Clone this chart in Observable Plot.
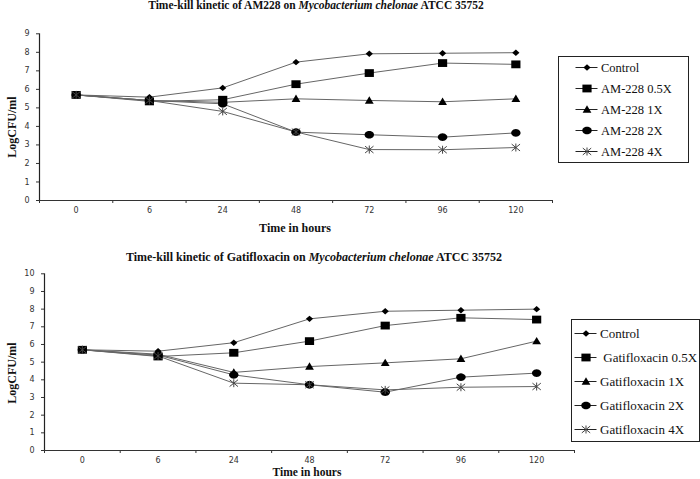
<!DOCTYPE html>
<html><head><meta charset="utf-8">
<script src="https://cdn.jsdelivr.net/npm/d3@7"></script>
<script src="https://cdn.jsdelivr.net/npm/@observablehq/plot@0.6"></script>
<style>
body{margin:0;background:#fff;}
#fig{position:relative;width:700px;height:479px;overflow:hidden;font-family:"Liberation Serif",serif;}
.t{position:absolute;white-space:nowrap;font-weight:bold;color:#111;transform:translateX(-50%);line-height:1;}
.yl{position:absolute;white-space:nowrap;font-weight:bold;color:#111;font-size:12px;transform:translate(-50%,-50%) rotate(-90deg);line-height:1;}
.leg{position:absolute;border:1.5px solid #222;box-sizing:border-box;background:#fff;}
.leg svg{display:block;}
</style></head>
<body><div id="fig"></div>
<script>
const hours = ["0","6","24","48","72","96","120"];

const seriesA = ["Control","AM-228 0.5X","AM-228 1X","AM-228 2X","AM-228 4X"];
const controlA = [5.7,5.58,6.08,7.47,7.92,7.95,7.98];
const halfXA   = [5.7,5.35,5.44,6.28,6.88,7.42,7.35];
const oneXA    = [5.7,5.4,5.3,5.49,5.4,5.33,5.49];
const twoXA    = [5.7,5.4,5.22,3.69,3.55,3.42,3.65];
const fourXA   = [5.7,5.4,4.81,3.7,2.75,2.74,2.86];

const seriesB = ["Control"," Gatifloxacin 0.5X","Gatifloxacin 1X","Gatifloxacin 2X","Gatifloxacin 4X"];
const controlB = [5.7,5.62,6.1,7.45,7.88,7.94,8.0];
const halfXB   = [5.7,5.32,5.53,6.19,7.07,7.51,7.41];
const oneXB    = [5.7,5.45,4.42,4.75,4.96,5.19,6.19];
const twoXB    = [5.7,5.4,4.28,3.72,3.3,4.15,4.38];
const fourXB   = [5.7,5.35,3.81,3.72,3.43,3.58,3.62];

const yTicksA = d3.range(0,10);
const yTicksB = d3.range(0,11);

// Excel-like marker shapes (slightly wider than tall, as in the reference)
function poly(pts){ return {draw(ctx){ ctx.moveTo(pts[0][0],pts[0][1]); for(const p of pts.slice(1)) ctx.lineTo(p[0],p[1]); ctx.closePath(); }}; }
const diamondM = poly([[0,-3.2],[3.6,0],[0,3.2],[-3.6,0]]);
const squareM = poly([[-4.6,-3.9],[4.6,-3.9],[4.6,3.9],[-4.6,3.9]]);
const triangleM = poly([[0,-4.2],[4.4,3.2],[-4.4,3.2]]);
const circleM = poly(d3.range(24).map(i=>[4.7*Math.cos(i/24*2*Math.PI), 3.8*Math.sin(i/24*2*Math.PI)]));
const starM = {draw(ctx){ ctx.moveTo(-4.2,-3.4); ctx.lineTo(4.2,3.4); ctx.moveTo(-4.2,3.4); ctx.lineTo(4.2,-3.4); ctx.moveTo(0,-4); ctx.lineTo(0,4); }};
const symbols = [diamondM, squareM, triangleM, circleM, starM];

function rows(series, values){
  return series.flatMap((s,k)=>values[k].map((v,i)=>({series:s, k, hour:i, value:v})));
}

function panel({series, values, yMax, yTicks, width, height, ml, mr, mt, mb}){
  const data = rows(series, values);
  const idx = d3.range(hours.length);
  const bounds = d3.range(hours.length+1).map(i=>i-0.5);
  return Plot.plot({
    width, height, marginLeft:ml, marginRight:mr, marginTop:mt, marginBottom:mb,
    x:{domain:[-0.5, hours.length-0.5], axis:null},
    y:{domain:[0,yMax], axis:null},
    symbol:{domain:series, range:symbols},
    style:{background:"transparent", overflow:"visible", color:"#333"},
    marks:[
      Plot.axisY({ticks:yTicks, tickSize:3, tickPadding:7, fontSize:8, fontFamily:"DejaVu Sans", label:null}),
      Plot.axisX({ticks:bounds, tickSize:3, tickFormat:()=>"", label:null}),
      Plot.axisX({ticks:idx, tickSize:0, tickPadding:7, tickFormat:i=>hours[i], fontSize:8, fontFamily:"DejaVu Sans", label:null}),
      Plot.ruleY([0], {stroke:"#333", strokeWidth:1}),
      Plot.ruleX([-0.5], {stroke:"#222", strokeWidth:1.2}),
      Plot.line(data, {x:"hour", y:"value", z:"series", stroke:"#666", strokeWidth:1}),
      Plot.dot(data, {x:"hour", y:"value", symbol:"series", r:4, fill:"black", stroke:d=>d.k===4?"#444":"none", strokeWidth:1})
    ]
  });
}

function legend({series, width, height, ml, mr, mt, mb, fontSize}){
  return Plot.plot({
    width, height, marginLeft:ml, marginRight:mr, marginTop:mt, marginBottom:mb,
    x:{domain:[0,2], axis:null},
    y:{type:"point", domain:series, padding:0, axis:null},
    symbol:{domain:series, range:symbols},
    style:{background:"transparent", overflow:"visible"},
    marks:[
      Plot.ruleY(series, {y:d=>d, x1:0, x2:2, stroke:"#222", strokeWidth:1}),
      Plot.dot(series, {x:1, y:d=>d, symbol:d=>d, r:4, fill:"black", stroke:(d,i)=>i===4?"#444":"none", strokeWidth:1}),
      Plot.text(series, {x:2, y:d=>d, text:d=>d, textAnchor:"start", dx:3, fontSize, fontFamily:"Liberation Serif", fill:"#111"})
    ]
  });
}

const fig = document.getElementById("fig");
function place(el, left, top){ el.style.position="absolute"; el.style.left=left+"px"; el.style.top=top+"px"; fig.appendChild(el); return el; }
function html(cls, h, left, top, size){ const d=document.createElement("div"); d.className=cls; d.innerHTML=h; if(size) d.style.fontSize=size+"px"; return place(d,left,top); }

// Top panel
place(panel({series:seriesA, values:[controlA,halfXA,oneXA,twoXA,fourXA], yMax:9, yTicks:yTicksA,
  width:700, height:240, ml:39, mr:148, mt:33.3, mb:40}), 0, 0);
html("t", "Time-kill kinetic of AM228 on <i>Mycobacterium chelonae</i> ATCC 35752", 316, 0, 11.5);
html("t", "Time in hours", 295, 222, 12);
html("yl", "LogCFU/ml", 12, 127);
const legA = html("leg", "", 558, 56); legA.style.width="131px"; legA.style.height="107px";
legA.appendChild(legend({series:seriesA, width:128, height:104, ml:16.5, mr:128-38.5, mt:9.5, mb:9.5, fontSize:12.5}));

// Bottom panel
place(panel({series:seriesB, values:[controlB,halfXB,oneXB,twoXB,fourXB], yMax:10, yTicks:yTicksB,
  width:700, height:239, ml:44, mr:126, mt:33.3, mb:29}), 0, 240);
html("t", "Time-kill kinetic of Gatifloxacin on <i>Mycobacterium chelonae</i> ATCC 35752", 314, 251, 12);
html("t", "Time in hours", 307, 467, 11.5);
html("yl", "LogCFU/ml", 12, 373);
const legB = html("leg", "", 571, 319); legB.style.width="129px"; legB.style.height="123px";
legB.appendChild(legend({series:seriesB, width:126, height:120, ml:2.5, mr:126-24.5, mt:12.5, mb:10.5, fontSize:13}));
</script></body></html>
